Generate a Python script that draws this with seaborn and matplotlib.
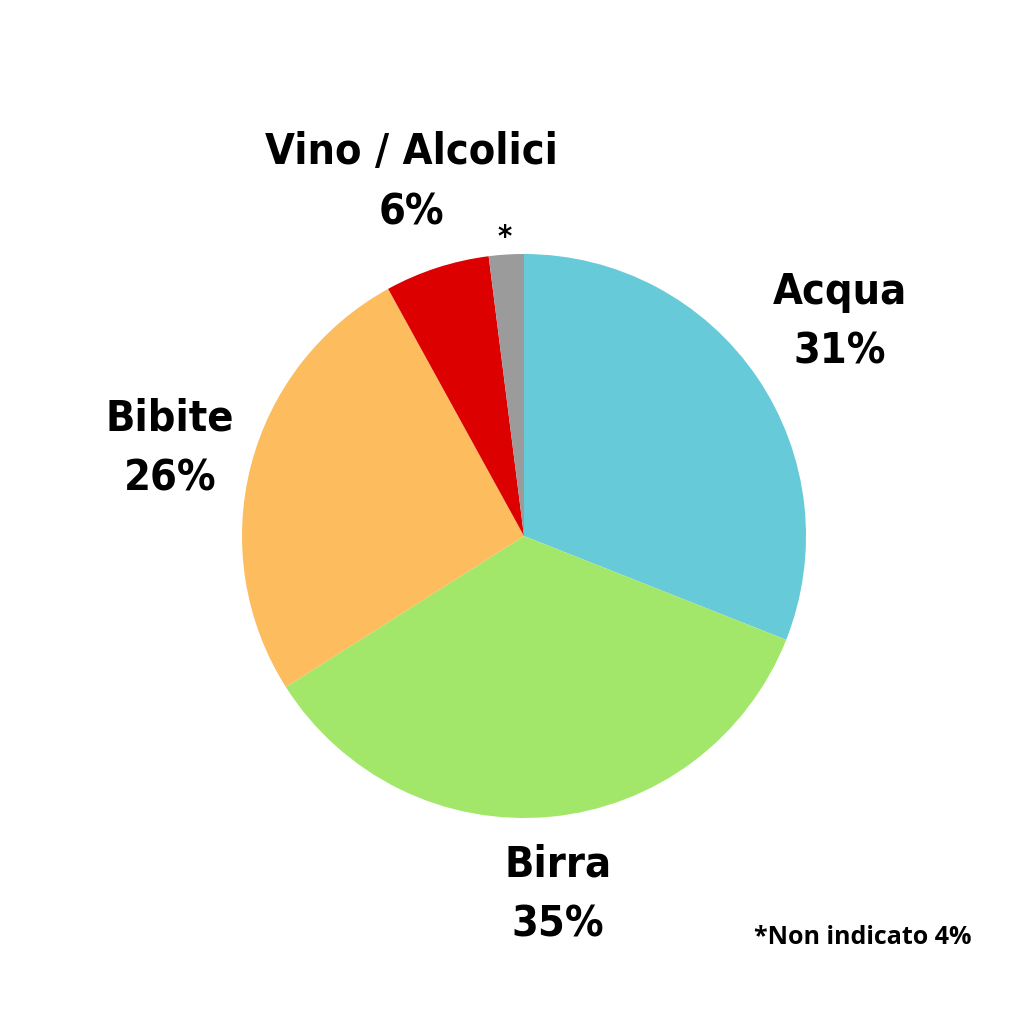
import matplotlib
matplotlib.use("Agg")
import matplotlib.pyplot as plt
import seaborn as sns

categories = ["Acqua", "Birra", "Bibite", "Vino / Alcolici", "*"]
values = [31, 35, 26, 6, 2]
pct_labels = ["31%", "35%", "26%", "6%", ""]
colors = ["#67CAD8", "#A3E76A", "#FDBC5E", "#DD0000", "#9B9B9B"]
footnote = "*Non indicato 4%"

sns.set_theme(style="white")
plt.rcParams["font.family"] = ["DejaVu Sans"]

W = H = 1024
cx, cy, r = 524, 536, 282
fig = plt.figure(figsize=(10.24, 10.24), dpi=100)
ax = fig.add_axes([0, 0, 1, 1])
ax.pie(values, colors=colors, startangle=90, counterclock=False,
       radius=1, center=(0, 0), wedgeprops=dict(linewidth=0))
ax.set_xlim(-cx / r, (W - cx) / r)
ax.set_ylim(-(H - cy) / r, cy / r)
ax.set_aspect("equal")
ax.axis("off")

label_pos = [(1.12, 0.76), (0.12, -1.27), (-1.255, 0.31), (-0.40, 1.255), (-0.067, 1.06)]
half = 30 / r
for name, pct, (x, y) in zip(categories, pct_labels, label_pos):
    if name == "*":
        ax.text(x, y, name, ha="center", va="center", fontsize=22, fontweight="bold",
                fontstretch="condensed", color="black")
        continue
    ax.text(x, y + half, name, ha="center", va="center", fontsize=31, fontweight="bold",
            fontstretch="condensed", color="black")
    ax.text(x, y - half, pct, ha="center", va="center", fontsize=31, fontweight="bold",
            fontstretch="condensed", color="black")

fig.text(972 / W, 1 - 937 / H, footnote, ha="right", va="center", fontsize=18,
         fontweight="bold", family=["Open Sans", "DejaVu Sans"], color="black")

fig.savefig("out.png", dpi=100, facecolor="white")
